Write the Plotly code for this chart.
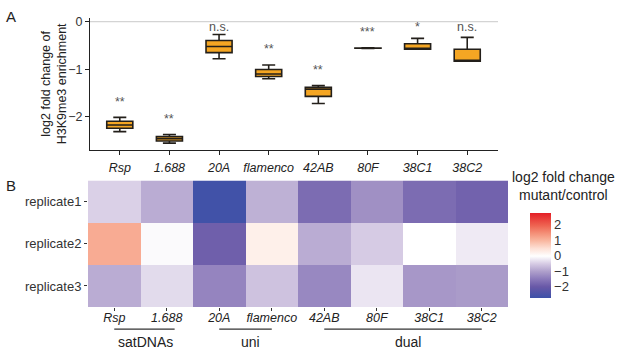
import plotly.graph_objects as go

W, H = 617, 354

categories = ["Rsp", "1.688", "20A", "flamenco", "42AB", "80F", "38C1", "38C2"]
# three replicate values per category (log2 fold change of H3K9me3 enrichment)
box_values = {
    "Rsp":      [-2.31, -2.17, -2.01],
    "1.688":    [-2.55, -2.46, -2.37],
    "20A":      [-0.78, -0.52, -0.27],
    "flamenco": [-1.20, -1.10, -0.91],
    "42AB":     [-1.72, -1.42, -1.34],
    "80F":      [-0.560, -0.555, -0.550],
    "38C1":     [-0.58, -0.58, -0.35],
    "38C2":     [-0.83, -0.83, -0.33],
}
significance = ["**", "**", "n.s.", "**", "**", "***", "*", "n.s."]

replicates = ["replicate1", "replicate2", "replicate3"]
heat_values = [
    [-0.45, -0.85, -2.65, -0.80, -1.70, -1.20, -1.70, -1.85],
    [1.15, -0.05, -1.90, 0.25, -0.85, -0.50, 0.00, -0.20],
    [-0.85, -0.35, -1.35, -0.60, -1.30, -0.25, -1.10, -1.05],
]
groups = [("satDNAs", 0, 1), ("uni", 2, 3), ("dual", 4, 7)]

zmin, zmax = -2.72, 2.8
colorbar_ticks = [-2, -1, 0, 1, 2]

FONT = "Liberation Sans, Arial, sans-serif"

def px_x(p):
    return p / W

def px_y(p):
    return 1 - p / H

fig = go.Figure()

# ---- Panel A: box plots ----
xs, ys = [], []
for c in categories:
    for v in box_values[c]:
        xs.append(c)
        ys.append(v)
fig.add_trace(go.Box(
    x=xs, y=ys, xaxis="x", yaxis="y",
    quartilemethod="inclusive", boxpoints=False,
    fillcolor="#F5A623", line=dict(color="#231f1a", width=1.6),
    showlegend=False, hoverinfo="skip",
))

# ---- Panel B: heatmap ----
def frac(v):
    return (v - zmin) / (zmax - zmin)

cs_points = [
    (zmin, "#3D51A8"),
    (-2.0, "#6858A7"),
    (-1.5, "#8A79BA"),
    (-1.0, "#AE9FCB"),
    (-0.5, "#D6CBE4"),
    (0.0, "#FFFFFF"),
    (0.5, "#FDE0D5"),
    (1.0, "#F9B7A0"),
    (1.5, "#F48E76"),
    (2.0, "#EE6250"),
    (zmax, "#E41E26"),
]
colorscale = [[frac(v), c] for v, c in cs_points]

fig.add_trace(go.Heatmap(
    z=heat_values, x=categories, y=replicates, xaxis="x2", yaxis="y2",
    zmin=zmin, zmax=zmax, colorscale=colorscale, xgap=0, ygap=0,
    hoverinfo="skip",
    colorbar=dict(
        x=px_x(526), xanchor="left", y=px_y(254.2), yanchor="middle",
        thickness=21, thicknessmode="pixels", len=105, lenmode="pixels",
        tickvals=colorbar_ticks, ticks="", outlinewidth=0, xpad=4,
        tickfont=dict(family=FONT, size=13, color="#333"),
    ),
))

fig.update_layout(
    width=W, height=H,
    margin=dict(l=0, r=0, t=0, b=0),
    paper_bgcolor="white", plot_bgcolor="white",
    font=dict(family=FONT, color="#222"),
    boxgap=0.25,
    xaxis=dict(
        domain=[px_x(90), px_x(498)], anchor="y", type="category",
        categoryorder="array", categoryarray=categories,
        range=[-0.6, 7.62],
        showline=True, linecolor="#222", linewidth=1.2,
        ticks="outside", ticklen=4, tickcolor="#222", ticklabelstandoff=2,
        tickfont=dict(family=FONT, size=12.5, color="#222", style="italic"),
        showgrid=False, zeroline=False,
    ),
    yaxis=dict(
        domain=[px_y(148), px_y(15)], anchor="x",
        range=[-2.69, 0.08],
        tickvals=[0, -1, -2],
        showline=True, linecolor="#222", linewidth=1.2,
        ticks="outside", ticklen=4, tickcolor="#222",
        tickfont=dict(family=FONT, size=12.5, color="#333"),
        showgrid=False, zeroline=False,
    ),
    xaxis2=dict(
        domain=[px_x(88), px_x(508)], anchor="y2", type="category",
        categoryorder="array", categoryarray=categories,
        ticks="outside", ticklen=3, tickcolor="#333", ticklabelstandoff=-4,
        tickfont=dict(family=FONT, size=12.5, color="#222", style="italic"),
        showline=False, showgrid=False, zeroline=False,
    ),
    yaxis2=dict(
        domain=[px_y(306.7), px_y(179)], anchor="x2", type="category",
        autorange="reversed",
        ticks="outside", ticklen=3, tickcolor="#333",
        tickfont=dict(family=FONT, size=13, color="#333"),
        showline=False, showgrid=False, zeroline=False,
    ),
)

# y axis title of panel A (rotated text)
fig.add_annotation(x=px_x(54), y=px_y(82), xref="paper", yref="paper",
                   text="log2 fold change of<br>H3K9me3 enrichment", textangle=-90,
                   showarrow=False, xanchor="center", yanchor="middle", align="center",
                   font=dict(family=FONT, size=12.5, color="#222"))

# zero reference line
fig.add_shape(type="line", xref="x domain", yref="y", x0=0, x1=1, y0=0, y1=0,
              line=dict(color="#d4d4d4", width=1.2), layer="below")

# significance labels (positioned by category index)
for i, (c, s) in enumerate(zip(categories, significance)):
    y = min(max(box_values[c]) + 0.33, -0.12)
    fig.add_annotation(x=i, y=y, xref="x", yref="y", text=s, showarrow=False,
                       font=dict(family=FONT, size=12.5, color="#555"))

# group lines and labels under heatmap
for name, i0, i1 in groups:
    fig.add_shape(type="line", xref="x2", yref="paper",
                  x0=i0, x1=i1 + (0.15 if name == "satDNAs" else 0),
                  y0=px_y(329), y1=px_y(329),
                  line=dict(color="#333", width=1.2))
    fig.add_annotation(x=(i0 + i1) / 2 + 0.1, y=px_y(341.5), xref="x2", yref="paper",
                       text=name, showarrow=False, yanchor="middle", xanchor="center",
                       font=dict(family=FONT, size=14, color="#222"))

# colorbar title
fig.add_annotation(x=px_x(563), y=px_y(185), xref="paper", yref="paper",
                   text="log2 fold change<br>mutant/control", showarrow=False,
                   align="center", xanchor="center", yanchor="middle",
                   font=dict(family=FONT, size=14, color="#222"))

# panel letters
fig.add_annotation(x=px_x(11), y=px_y(14), xref="paper", yref="paper", text="A",
                   showarrow=False, xanchor="center", yanchor="middle",
                   font=dict(family=FONT, size=15, color="#222"))
fig.add_annotation(x=px_x(11), y=px_y(184), xref="paper", yref="paper", text="B",
                   showarrow=False, xanchor="center", yanchor="middle",
                   font=dict(family=FONT, size=15, color="#222"))

fig.write_html("out.html",
               config={"displayModeBar": False},
               post_script="document.body.style.margin='0';document.body.style.padding='0';")
